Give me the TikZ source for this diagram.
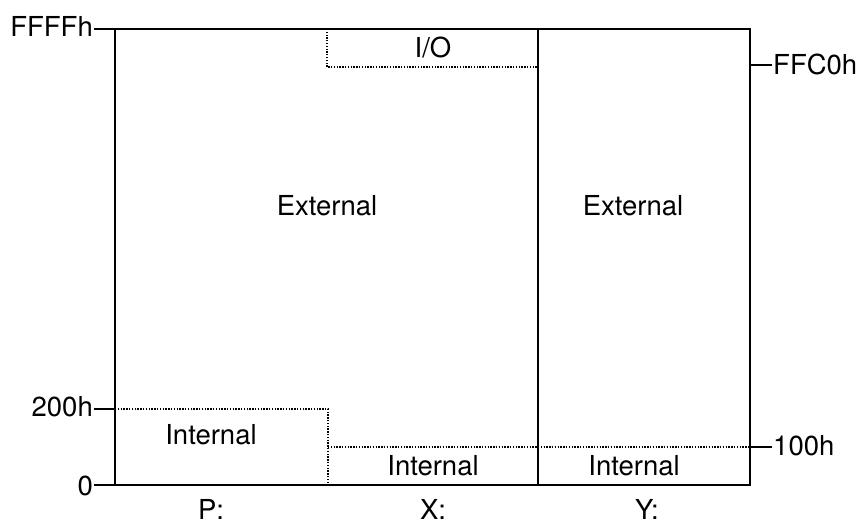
\documentclass[tikz,border=0pt]{standalone}
\usepackage{fontspec}
\setmainfont{TeX Gyre Heros}
\usetikzlibrary{
  positioning
}
\tikzset{
  region/.style={
    line width=2pt,
    black
  },
  boundary/.style={
    line width=1.5pt,
    dash pattern=on 1.3pt off 1.5pt
  },
  tick/.style={
    line width=1.6pt
  },
  memtext/.style={
    font=\fontsize{27.5}{30}\selectfont,
    inner sep=1pt
  },
  addr/.style={
    memtext
  }
}

\begin{document}
\begin{tikzpicture}[x=1pt,y=-1pt]
  \useasboundingbox (0,0) rectangle (856,524);
  % corners of the three spaces
  \coordinate (tl) at (115,29);
  \coordinate (tr) at (750,29);
  \coordinate (bl) at (115,485);
  \coordinate (br) at (750,485);
  \coordinate (xy top) at (538,29);
  \coordinate (xy bot) at (538,485);
  \draw [region] (tl) rectangle (br);
  \draw [region] (xy top) -- (xy bot);
  % dotted sub-regions
  \draw [boundary] (327,29) -- (327,67) -- (538,67);
  \draw [boundary] (115,409) -- (328,409) -- (328,485);
  \draw [boundary] (328,447) -- (750,447);
  % address marks
  \node [addr, anchor=east] (ffffh) at (94,26) {FFFFh};
  \node [addr, anchor=east] (a200h) at (94,407) {200h};
  \node [addr, anchor=east] (a0) at (94,486) {0};
  \node [addr, anchor=west] (ffc0h) at (772,64) {FFC0h};
  \node [addr, anchor=west] (a100h) at (772,446) {100h};
  \draw [tick] (ffffh.east |- tl) -- (tl);
  \draw [tick] (a200h.east |- 115,409) -- (115,409);
  \draw [tick] (a0.east |- bl) -- (bl);
  \draw [tick] (ffc0h.west |- 750,65) -- (750,65);
  \draw [tick] (a100h.west |- 750,447) -- (750,447);
  % region names
  \node [memtext] (io) at (433,48) {I/O};
  \node [memtext] (extp) at (327,206) {External};
  \node [memtext] (exty) at (633,206) {External};
  \node [memtext] (intp) at (211,435) {Internal};
  \node [memtext] (intx) at (433,466) {Internal};
  \node [memtext] (inty) at (634,466) {Internal};
  % space names
  \node [memtext] (colp) at (211,509) {P:};
  \node [memtext] (colx) at (433,509) {X:};
  \node [memtext] (coly) at (647,509) {Y:};
\end{tikzpicture}
\end{document}
